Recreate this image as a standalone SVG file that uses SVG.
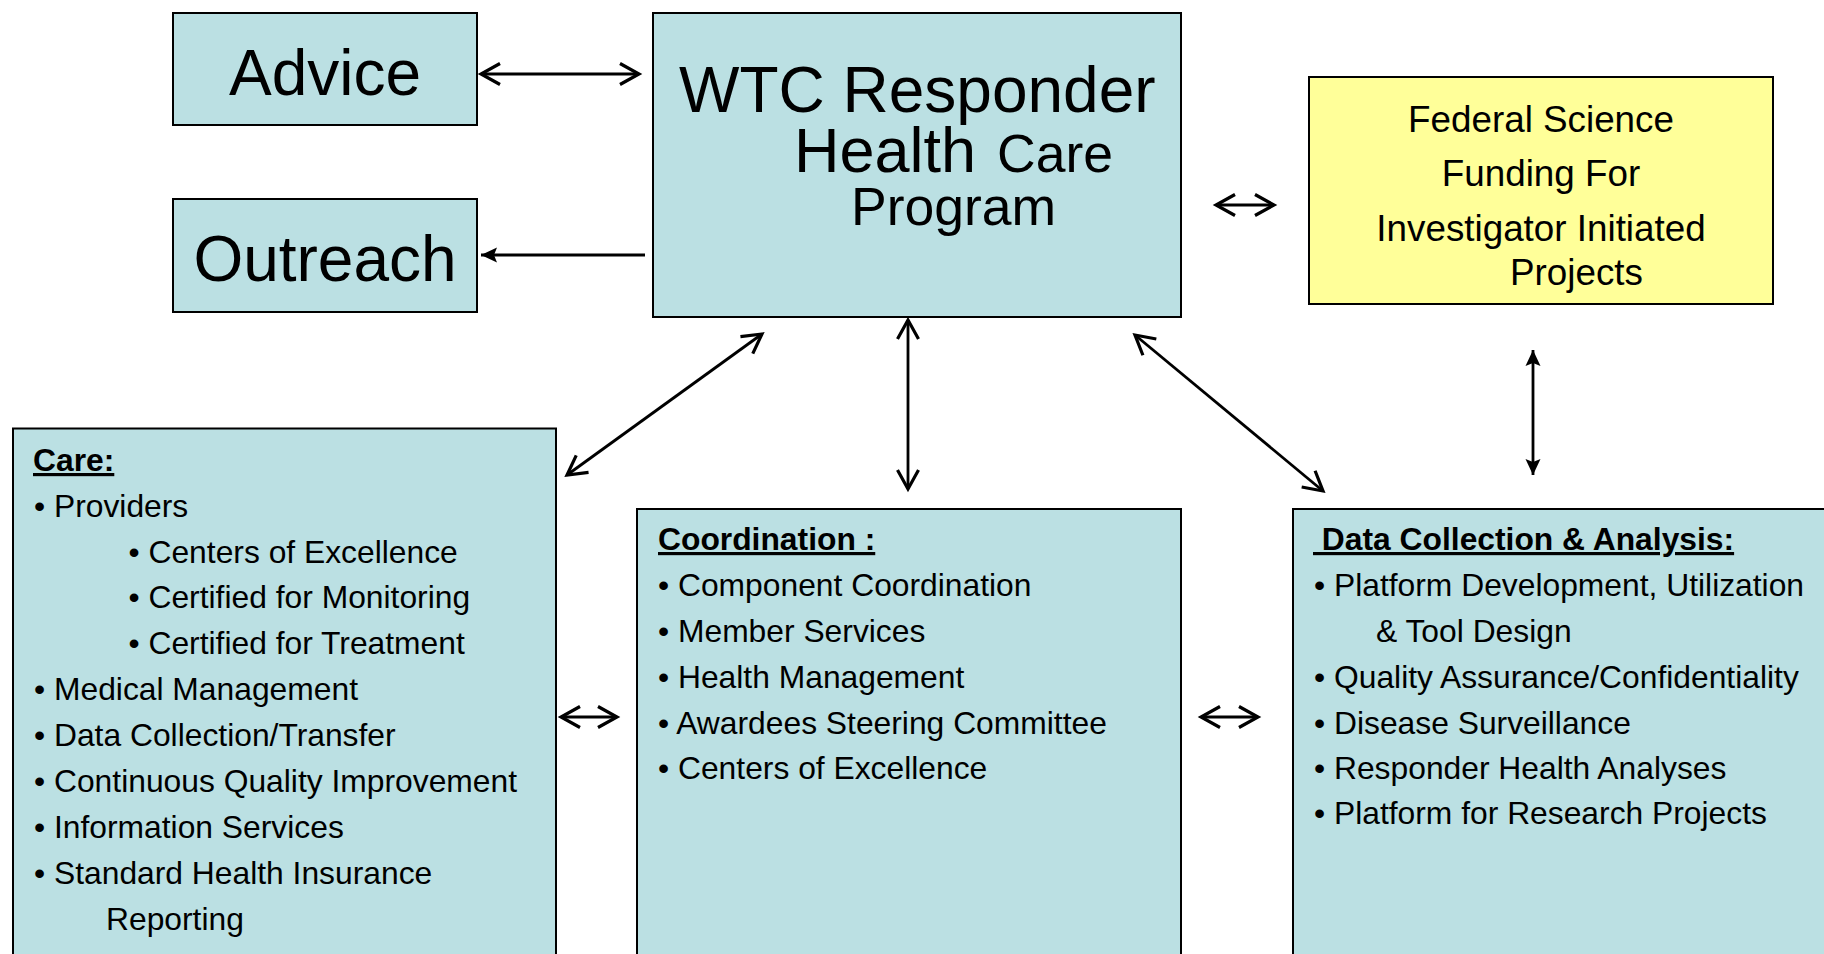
<svg xmlns="http://www.w3.org/2000/svg" width="1824" height="954" viewBox="0 0 1824 954">
<style>
.box{fill:#BBE0E3;stroke:#000;stroke-width:2}
.ybox{fill:#FFFF99;stroke:#000;stroke-width:2}
text{font-family:"Liberation Sans",Arial,sans-serif;fill:#000}
.big{font-size:64px}
.mid{font-size:53.5px}
.fed{font-size:36.8px;text-anchor:middle}
.item{font-size:31.8px}
.head{font-size:31.8px;font-weight:bold;text-decoration:underline}
.conn line{stroke:#000;stroke-width:2.8;fill:none}
.open{marker-start:url(#chev);marker-end:url(#chev)}
.solid{marker-end:url(#tri)}
.solid2{marker-start:url(#tri);marker-end:url(#tri)}
</style>
<defs>
<marker id="chev" markerUnits="userSpaceOnUse" viewBox="-26 -15 30 30" markerWidth="30" markerHeight="30" refX="0" refY="0" orient="auto-start-reverse">
<path d="M -19 -10.5 L 0 0 L -19 10.5" fill="none" stroke="#000" stroke-width="3.2" stroke-linejoin="miter"/>
</marker>
<marker id="tri" markerUnits="userSpaceOnUse" viewBox="-20 -10 22 20" markerWidth="22" markerHeight="20" refX="0" refY="0" orient="auto-start-reverse">
<path d="M -16 -7.5 L 0 0 L -16 7.5 L -13 0 Z" fill="#000"/>
</marker>
</defs>
<rect width="1824" height="954" fill="#fff"/>

<g id="advice">
<rect class="box" x="173" y="13" width="304" height="112"/>
<text class="big" x="325" y="95" text-anchor="middle">Advice</text>
</g>

<g id="outreach">
<rect class="box" x="173" y="199" width="304" height="113"/>
<text class="big" x="325" y="281" text-anchor="middle">Outreach</text>
</g>

<g id="wtc">
<rect class="box" x="653" y="13" width="528" height="304"/>
<text class="big" x="679" y="112">WTC Responder</text>
<text style="font-size:63px" x="794" y="172">Health</text>
<text class="mid" x="997" y="172">Care</text>
<text class="mid" x="851" y="225">Program</text>
</g>

<g id="federal">
<rect class="ybox" x="1309" y="77" width="464" height="227"/>
<text class="fed" x="1541" y="132">Federal Science</text>
<text class="fed" x="1541" y="186">Funding For</text>
<text class="fed" x="1541" y="241">Investigator Initiated</text>
<text style="font-size:36.8px" x="1510" y="285">Projects</text>
</g>

<g id="care">
<rect class="box" x="13" y="428.5" width="543" height="560"/>
<text class="head" x="33" y="471">Care:</text>
<text class="item" x="34" y="517">• Providers</text>
<text class="item" x="128.5" y="563">• Centers of Excellence</text>
<text class="item" x="128.5" y="608">• Certified for Monitoring</text>
<text class="item" x="128.5" y="654">• Certified for Treatment</text>
<text class="item" x="34" y="700">• Medical Management</text>
<text class="item" x="34" y="746">• Data Collection/Transfer</text>
<text class="item" x="34" y="792">• Continuous Quality Improvement</text>
<text class="item" x="34" y="838">• Information Services</text>
<text class="item" x="34" y="884">• Standard Health Insurance</text>
<text class="item" x="106" y="930">Reporting</text>
</g>

<g id="coordination">
<rect class="box" x="637" y="509" width="544" height="480"/>
<text class="head" x="658" y="550">Coordination :</text>
<text class="item" x="658" y="596">• Component Coordination</text>
<text class="item" x="658" y="642">• Member Services</text>
<text class="item" x="658" y="688">• Health Management</text>
<text class="item" x="658" y="734">• Awardees Steering Committee</text>
<text class="item" x="658" y="779">• Centers of Excellence</text>
</g>

<g id="data">
<rect class="box" x="1293" y="509" width="560" height="480"/>
<text class="head" x="1313" y="550">&#160;Data Collection &amp; Analysis:</text>
<text class="item" x="1314" y="596">• Platform Development, Utilization</text>
<text class="item" x="1376" y="642">&amp; Tool Design</text>
<text class="item" x="1314" y="688">• Quality Assurance/Confidentiality</text>
<text class="item" x="1314" y="734">• Disease Surveillance</text>
<text class="item" x="1314" y="779">• Responder Health Analyses</text>
<text class="item" x="1314" y="824">• Platform for Research Projects</text>
</g>

<g id="connectors" class="conn">
<line class="open" x1="481" y1="74" x2="639" y2="74"/>
<line class="solid" x1="645" y1="255" x2="481" y2="255"/>
<line class="open" x1="1216" y1="205" x2="1274" y2="205"/>
<line class="open" x1="567" y1="475" x2="762" y2="334"/>
<line class="open" x1="908" y1="320" x2="908" y2="489"/>
<line class="open" x1="1135" y1="335" x2="1323" y2="491"/>
<line class="solid2" x1="1533" y1="350" x2="1533" y2="475"/>
<line class="open" x1="561" y1="717" x2="617" y2="717"/>
<line class="open" x1="1201" y1="717" x2="1258" y2="717"/>
</g>
</svg>
